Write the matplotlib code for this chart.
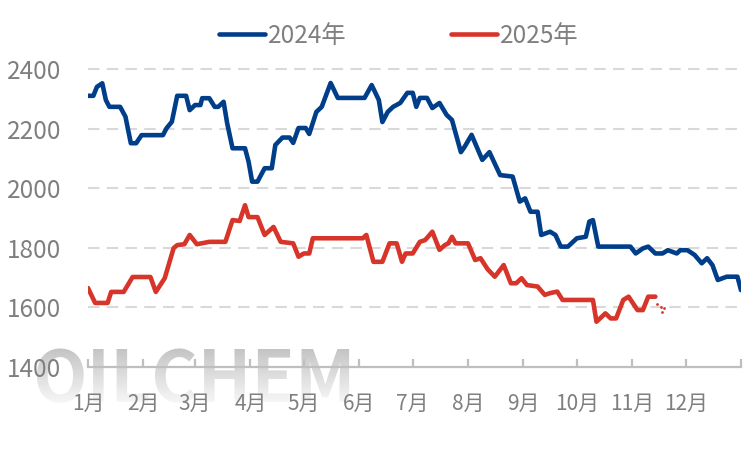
import numpy as np
import matplotlib
matplotlib.use("Agg")
import matplotlib.pyplot as plt
from matplotlib.lines import Line2D

# ---------------- data ----------------
months = ['1月', '2月', '3月', '4月', '5月', '6月', '7月', '8月', '9月', '10月', '11月', '12月']
month_start_days = [0, 31, 60, 91, 121, 152, 182, 213, 244, 274, 305, 335, 366]

series_names = ['2024年', '2025年']

days_2024 = [0, 3, 5, 8, 10, 12, 18, 21, 24, 27, 30, 42, 44, 47, 50, 55, 57, 60, 63, 64,
             68, 71, 73, 76, 78, 81, 88, 90, 92, 95, 99, 103, 105, 109, 113, 115, 118, 122,
             124, 128, 131, 136, 140, 155, 159, 163, 165, 168, 171, 175, 179, 182, 184, 186,
             190, 193, 197, 201, 204, 209, 211, 215, 221, 225, 231, 238, 242, 245, 248, 252,
             254, 259, 262, 265, 269, 274, 279, 281, 283, 286, 304, 307, 311, 314, 318, 322,
             325, 330, 332, 336, 340, 344, 347, 350, 353, 358, 364, 366]
price_2024 = [2310, 2310, 2340, 2352, 2296, 2273, 2273, 2240, 2151, 2151, 2178, 2178, 2201,
              2223, 2310, 2310, 2262, 2279, 2279, 2302, 2302, 2273, 2273, 2290, 2218, 2134,
              2134, 2089, 2022, 2022, 2067, 2067, 2145, 2170, 2170, 2152, 2202, 2202, 2182,
              2256, 2273, 2353, 2303, 2303, 2346, 2296, 2222, 2256, 2273, 2286, 2320, 2320,
              2273, 2303, 2303, 2269, 2286, 2246, 2229, 2121, 2138, 2179, 2095, 2121, 2044,
              2039, 1955, 1966, 1921, 1921, 1843, 1854, 1843, 1804, 1804, 1832, 1837, 1888,
              1893, 1804, 1804, 1781, 1798, 1804, 1781, 1781, 1792, 1781, 1792, 1792, 1776,
              1748, 1765, 1742, 1692, 1703, 1703, 1658]

days_2025 = [0, 4, 11, 13, 20, 25, 35, 38, 43, 48, 50, 54, 57, 61, 68, 77, 81, 85, 88, 90,
             95, 99, 104, 108, 115, 118, 121, 124, 126, 154, 156, 160, 165, 169, 173, 176,
             178, 182, 186, 189, 193, 197, 200, 202, 204, 206, 213, 217, 220, 224, 228, 233,
             237, 240, 243, 246, 252, 256, 259, 263, 266, 283, 285, 290, 293, 296, 300, 303,
             308, 311, 314, 318]
price_2025 = [1665, 1615, 1615, 1652, 1652, 1702, 1702, 1652, 1698, 1799, 1809, 1812, 1843,
              1812, 1820, 1820, 1893, 1890, 1943, 1903, 1903, 1843, 1870, 1820, 1815, 1770,
              1781, 1781, 1832, 1832, 1843, 1753, 1753, 1815, 1815, 1753, 1781, 1781, 1820,
              1826, 1854, 1793, 1809, 1815, 1837, 1815, 1815, 1759, 1765, 1728, 1703, 1742,
              1681, 1681, 1698, 1675, 1670, 1642, 1648, 1653, 1625, 1625, 1552, 1580, 1563,
              1563, 1625, 1636, 1591, 1591, 1636, 1636]
# trailing isolated daily points of 2025 (drawn as dots)
dot_days_2025 = [319, 321, 322, 323]
dot_price_2025 = [1611, 1601, 1584, 1598]

y_ticks = [1400, 1600, 1800, 2000, 2200, 2400]

# ---------------- style ----------------
BLUE = '#003E8A'
RED = '#D7342A'
GRAY_TXT = '#7F7F7F'
AXIS_GRAY = '#BFBFBF'
GRID_GRAY = '#D9D9D9'
CJK = ['Noto Sans CJK SC', 'DejaVu Sans']

plt.rcParams['font.family'] = CJK

fig = plt.figure(figsize=(7.5, 4.49), dpi=100)
fig.patch.set_facecolor('white')

W, H = 750, 449
left, right, top, bottom = 88, 741, 69, 367
ax = fig.add_axes([left / W, 1 - bottom / H, (right - left) / W, (bottom - top) / H])
ax.patch.set_alpha(0)

# watermark
fig.text(32 / W, 1 - 402 / H, 'OILCHEM', family=CJK,
         fontweight='heavy', fontsize=51, color='#C0C0C0', ha='left', va='baseline', zorder=-2)
grad_h, grad_w = 62, 340
alpha = np.linspace(0.0, 0.92, grad_h)[:, None] * np.ones((1, grad_w))
img = np.ones((grad_h, grad_w, 4))
img[..., 3] = alpha
fig.figimage(img, xo=25, yo=H - 406, origin='upper', zorder=-1)

# lines
ax.plot(days_2024, price_2024, color=BLUE, lw=3.3, solid_joinstyle='round',
        solid_capstyle='round', zorder=3)
ax.plot(days_2025, price_2025, color=RED, lw=3.3, solid_joinstyle='round',
        solid_capstyle='round', zorder=3)
ax.scatter(dot_days_2025, dot_price_2025, s=4, color=RED, linewidths=0, zorder=3)

ax.set_xlim(month_start_days[0], month_start_days[-1])
ax.set_ylim(1400, 2400)

# grid
for yv in y_ticks[1:]:
    ax.axhline(yv, color=GRID_GRAY, lw=1.5, dashes=(5.5, 3.5), zorder=1, clip_on=False)

for s in ['left', 'right', 'top']:
    ax.spines[s].set_visible(False)
ax.spines['bottom'].set_color(AXIS_GRAY)
ax.spines['bottom'].set_linewidth(1.6)
ax.spines['bottom'].set_zorder(2)

ax.set_yticks(y_ticks)
ax.set_yticklabels([str(v) for v in y_ticks])
ax.tick_params(axis='y', length=0, pad=19, labelsize=17.5, labelcolor=GRAY_TXT)

ax.set_xticks(month_start_days)
ax.set_xticklabels(months + [''])
ax.tick_params(axis='x', direction='in', length=6, width=1.6, color=AXIS_GRAY,
               pad=19, labelsize=15, labelcolor=GRAY_TXT)

# legend
handles = [Line2D([], [], color=BLUE, lw=3.3, solid_capstyle='round'),
           Line2D([], [], color=RED, lw=3.3, solid_capstyle='round')]
leg = fig.legend(handles, series_names, loc='center', bbox_to_anchor=(399 / W, 1 - 36 / H),
                 ncol=2, frameon=False, fontsize=17.5, handlelength=1.9,
                 handletextpad=0.12, columnspacing=4.3, borderpad=0)
for t in leg.get_texts():
    t.set_color(GRAY_TXT)

fig.savefig('out.png', dpi=100, facecolor='white')
